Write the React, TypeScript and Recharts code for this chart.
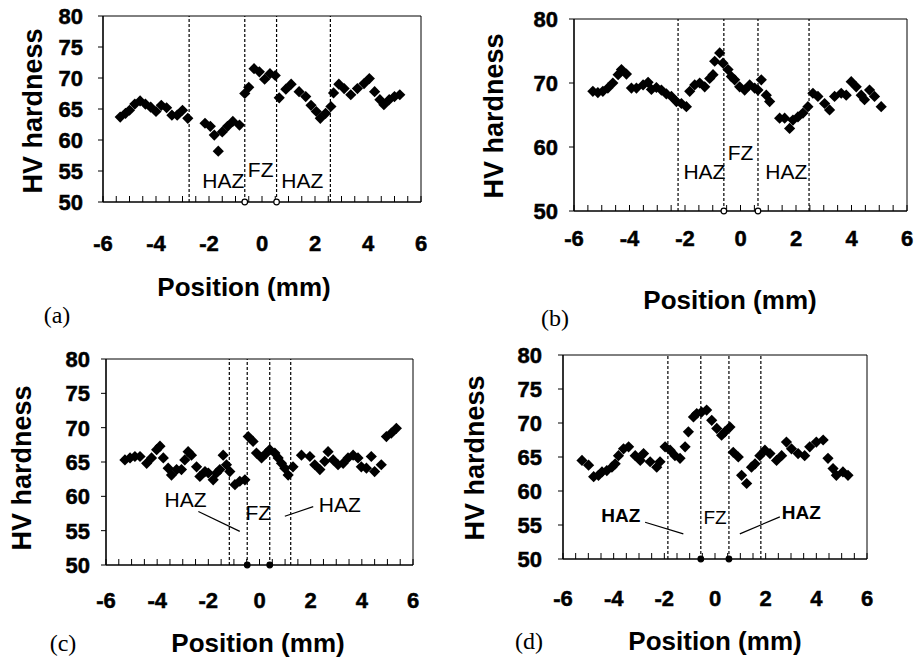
import React from "react";
import {
  ScatterChart,
  Scatter,
  XAxis,
  YAxis,
  ReferenceLine,
  ReferenceDot,
  ReferenceArea,
} from "recharts";

// ---- data (position in mm, Vickers hardness) ----
const positionA = [-5.35, -5.15, -5.0, -4.8, -4.6, -4.4, -4.2, -4.0, -3.8, -3.6, -3.4, -3.2, -3.0, -2.8, -2.15, -1.95, -1.8, -1.65, -1.5, -1.3, -1.1, -0.85, -0.65, -0.5, -0.3, -0.1, 0.1, 0.3, 0.5, 0.65, 0.9, 1.1, 1.4, 1.65, 1.85, 2.05, 2.2, 2.4, 2.6, 2.7, 2.9, 3.1, 3.35, 3.6, 3.85, 4.05, 4.25, 4.45, 4.6, 4.8, 5.0, 5.2];
const hardnessA = [63.7, 64.3, 64.8, 65.8, 66.3, 65.8, 65.3, 64.6, 65.6, 65.2, 64.0, 64.0, 64.8, 63.5, 62.7, 62.2, 60.8, 58.2, 61.3, 62.2, 63.0, 62.4, 67.5, 68.5, 71.5, 71.0, 69.8, 70.7, 70.4, 66.8, 68.2, 69.0, 67.8, 67.0, 65.6, 64.6, 63.5, 64.3, 65.4, 67.6, 69.0, 68.3, 67.3, 68.3, 69.1, 69.9, 67.8, 66.5, 65.7, 66.5, 67.0, 67.3];

const positionB = [-5.32, -5.14, -4.96, -4.78, -4.6, -4.41, -4.29, -4.11, -3.93, -3.75, -3.51, -3.33, -3.21, -3.03, -2.85, -2.67, -2.49, -2.31, -2.13, -1.95, -1.83, -1.65, -1.47, -1.29, -1.11, -0.99, -0.93, -0.75, -0.63, -0.45, -0.33, -0.21, -0.03, 0.15, 0.33, 0.51, 0.63, 0.75, 0.93, 1.05, 1.41, 1.59, 1.77, 1.89, 2.07, 2.25, 2.43, 2.61, 2.79, 3.03, 3.21, 3.39, 3.63, 3.81, 3.99, 4.17, 4.35, 4.47, 4.65, 4.83, 5.07];
const hardnessB = [68.7, 68.5, 68.7, 69.2, 70.0, 71.3, 72.1, 71.4, 69.2, 69.2, 69.7, 70.1, 69.0, 69.3, 68.9, 68.3, 67.9, 67.1, 66.8, 66.3, 68.7, 69.7, 70.0, 69.4, 70.7, 71.3, 73.4, 74.7, 73.1, 72.1, 71.0, 70.5, 69.4, 68.9, 69.7, 69.2, 68.9, 70.5, 68.1, 67.1, 64.5, 64.5, 62.9, 64.2, 64.7, 65.3, 66.3, 68.4, 67.9, 66.8, 65.8, 67.9, 68.4, 68.1, 70.2, 69.4, 68.1, 67.4, 68.9, 67.9, 66.3];

const positionC = [-5.26, -5.06, -4.87, -4.67, -4.41, -4.22, -4.02, -3.89, -3.76, -3.57, -3.44, -3.24, -3.05, -2.92, -2.79, -2.66, -2.46, -2.33, -2.13, -2.0, -1.81, -1.68, -1.55, -1.42, -1.29, -1.16, -0.96, -0.77, -0.57, -0.44, -0.25, -0.12, 0.08, 0.27, 0.4, 0.6, 0.73, 0.86, 0.99, 1.12, 1.31, 1.64, 1.97, 2.16, 2.36, 2.55, 2.68, 2.88, 3.07, 3.27, 3.46, 3.66, 3.85, 3.98, 4.18, 4.37, 4.5, 4.76, 4.96, 5.15, 5.35];
const hardnessC = [65.3, 65.6, 65.8, 65.8, 64.8, 65.6, 66.8, 67.3, 65.6, 64.1, 63.1, 63.9, 63.9, 65.3, 66.5, 66.0, 64.3, 62.9, 63.6, 63.4, 62.4, 63.4, 63.9, 66.0, 64.6, 63.6, 61.7, 62.2, 62.4, 68.7, 68.0, 66.3, 65.6, 66.3, 66.8, 66.3, 65.6, 64.8, 64.1, 63.1, 64.3, 66.0, 65.8, 64.6, 63.9, 65.1, 66.5, 65.3, 64.6, 64.8, 65.6, 66.0, 65.6, 64.3, 64.1, 65.8, 63.6, 64.6, 68.7, 69.2, 69.9];

const positionD = [-5.25, -4.99, -4.79, -4.6, -4.46, -4.27, -4.07, -3.94, -3.81, -3.61, -3.41, -3.15, -2.95, -2.82, -2.56, -2.3, -2.17, -1.97, -1.77, -1.58, -1.38, -1.18, -1.05, -0.85, -0.72, -0.53, -0.33, -0.13, 0.07, 0.26, 0.39, 0.59, 0.72, 0.92, 1.05, 1.25, 1.44, 1.58, 1.77, 1.97, 2.17, 2.43, 2.63, 2.82, 3.02, 3.28, 3.54, 3.74, 4.0, 4.27, 4.46, 4.66, 4.79, 5.05, 5.25];
const hardnessD = [64.5, 63.8, 62.1, 62.3, 62.8, 63.0, 63.5, 64.0, 65.2, 66.2, 66.5, 65.2, 64.5, 65.5, 64.3, 63.5, 64.3, 66.5, 66.0, 65.2, 64.8, 66.5, 68.7, 70.9, 71.4, 71.6, 71.9, 70.4, 69.2, 68.2, 68.7, 69.4, 65.7, 65.0, 62.3, 61.1, 63.5, 64.0, 65.2, 66.0, 65.5, 64.5, 65.2, 67.2, 66.2, 65.5, 65.2, 66.5, 67.2, 67.5, 64.8, 63.3, 62.3, 62.8, 62.3];

// zone boundaries (mm)
const hazEdgesA = [-2.75, 2.58];
const fzEdgesA = [-0.65, 0.55];
const hazEdgesB = [-2.25, 2.47];
const fzEdgesB = [-0.6, 0.63];
const hazEdgesC = [-1.18, 1.22];
const fzEdgesC = [-0.48, 0.4];
const hazEdgesD = [-1.86, 1.81];
const fzEdgesD = [-0.56, 0.55];

// zone labels (anchored in data units)
const zoneLabelsA = [
  { text: "HAZ", x: -1.46, y: 53.5 },
  { text: "FZ", x: -0.05, y: 55.2 },
  { text: "HAZ", x: 1.52, y: 53.5 },
];
const zoneLabelsB = [
  { text: "HAZ", x: -1.3, y: 56.1 },
  { text: "FZ", x: 0.0, y: 59.2 },
  { text: "HAZ", x: 1.65, y: 56.1 },
];
const zoneLabelsC = [
  { text: "HAZ", x: -2.89, y: 59.5 },
  { text: "FZ", x: -0.05, y: 57.6 },
  { text: "HAZ", x: 3.14, y: 58.8 },
];
const zoneLabelsD = [
  { text: "HAZ", x: -3.72, y: 56.4, bold: true },
  { text: "FZ", x: 0.0, y: 56.2 },
  { text: "HAZ", x: 3.41, y: 56.9, bold: true },
];

const leadersC = [
  [{ x: -2.39, y: 57.8 }, { x: -0.77, y: 54.9 }],
  [{ x: 2.1, y: 58.5 }, { x: 0.99, y: 57.1 }],
];
const leadersD = [
  [{ x: -2.76, y: 55.4 }, { x: -1.25, y: 53.7 }],
  [{ x: 2.56, y: 56.2 }, { x: 0.98, y: 53.7 }],
];

const xMajorTicks = [-6, -4, -2, 0, 2, 4, 6];
const xAllTicks = [-6, -5.5, -5, -4.5, -4, -3.5, -3, -2.5, -2, -1.5, -1, -0.5, 0, 0.5, 1, 1.5, 2, 2.5, 3, 3.5, 4, 4.5, 5, 5.5, 6];
const yTicksFive = [50, 55, 60, 65, 70, 75, 80];
const yTicksTen = [50, 60, 70, 80];

const SANS = "'Liberation Sans', Arial, Helvetica, sans-serif";
const SERIF = "'Liberation Serif', 'Times New Roman', serif";

const tickTextStyle: React.CSSProperties = {
  fontFamily: SANS,
  fontWeight: "bold",
  fontSize: 22,
  fill: "#000",
  stroke: "#000",
  strokeWidth: 0.5,
};

const Diamond = (props: any) => {
  const { cx, cy } = props;
  const r = 5.6;
  return <path d={`M${cx},${cy - r}L${cx + r},${cy}L${cx},${cy + r}L${cx - r},${cy}Z`} fill="#000" />;
};

const renderXTick = (props: any) => {
  const { x, y, payload, index } = props;
  const v = payload.value;
  if (!xMajorTicks.includes(v)) return <g key={`xt${index}`} />;
  return (
    <text key={`xt${index}`} x={x} y={y} dy="0.71em" textAnchor="middle" style={tickTextStyle}>
      {String(v)}
    </text>
  );
};

const renderYTick = (props: any) => {
  const { x, y, payload, index } = props;
  return (
    <text key={`yt${index}`} x={x} y={y} dy="0.36em" textAnchor="end" style={tickTextStyle}>
      {String(payload.value)}
    </text>
  );
};

type PanelProps = {
  left: number;
  top: number;
  width: number;
  height: number;
  margin: { top: number; right: number; bottom: number };
  yWidth: number;
  xTickMargin: number;
  yTickMargin: number;
  positions: number[];
  hardness: number[];
  yTicks: number[];
  hazEdges: number[];
  fzEdges: number[];
  fzFilled: boolean;
  labels: { text: string; x: number; y: number; bold?: boolean }[];
  labelSize: number;
  leaders?: { x: number; y: number }[][];
};

const Panel = (p: PanelProps) => {
  const data = p.positions.map((x, i) => ({ x, y: p.hardness[i] }));
  return (
    <div style={{ position: "absolute", left: p.left, top: p.top }}>
      <ScatterChart
        width={p.width}
        height={p.height}
        margin={{ top: p.margin.top, right: p.margin.right, bottom: p.margin.bottom, left: 0 }}
      >
        <ReferenceArea x1={-6} x2={6} y1={50} y2={80} fill="none" stroke="#000" strokeWidth={1} ifOverflow="visible" />
        <XAxis
          type="number"
          dataKey="x"
          domain={[-6, 6]}
          ticks={xAllTicks}
          interval={0}
          tickSize={-6}
          tickMargin={p.xTickMargin}
          height={50}
          axisLine={{ stroke: "#000", strokeWidth: 1.2 }}
          tickLine={{ stroke: "#000" }}
          tick={renderXTick}
          allowDataOverflow
        />
        <YAxis
          type="number"
          dataKey="y"
          domain={[50, 80]}
          ticks={p.yTicks}
          interval={0}
          width={p.yWidth}
          tickSize={5}
          tickMargin={p.yTickMargin}
          axisLine={{ stroke: "#000", strokeWidth: 1.2 }}
          tickLine={{ stroke: "#000" }}
          tick={renderYTick}
          allowDataOverflow
        />
        {[...p.hazEdges, ...p.fzEdges].map((x, i) => (
          <ReferenceLine key={`e${i}`} x={x} stroke="#000" strokeWidth={1.2} strokeDasharray="3 2" />
        ))}
        {(p.leaders || []).map((seg, i) => (
          <ReferenceLine key={`l${i}`} segment={seg} stroke="#000" strokeWidth={1.2} ifOverflow="visible" />
        ))}
        <Scatter data={data} shape={Diamond} fill="#000" isAnimationActive={false} />
        {p.fzEdges.map((x, i) => (
          <ReferenceDot
            key={`f${i}`}
            x={x}
            y={50}
            r={2.8}
            fill={p.fzFilled ? "#000" : "#fff"}
            stroke="#000"
            strokeWidth={1.2}
            ifOverflow="visible"
          />
        ))}
        {p.labels.map((l, i) => (
          <ReferenceDot
            key={`t${i}`}
            x={l.x}
            y={l.y}
            r={0}
            fill="none"
            stroke="none"
            label={{
              value: l.text,
              position: "center",
              fill: "#000",
              fontSize: p.labelSize,
              fontWeight: l.bold ? 700 : 400,
              fontFamily: SANS,
            }}
          />
        ))}
      </ScatterChart>
    </div>
  );
};

const Title = ({ text, x, y, rotate, size }: { text: string; x: number; y: number; rotate?: boolean; size: number }) => (
  <div
    style={{
      position: "absolute",
      left: x,
      top: y,
      transform: `translate(-50%, -50%)${rotate ? " rotate(-90deg)" : ""}`,
      fontFamily: SANS,
      fontWeight: 700,
      fontSize: size,
      whiteSpace: "nowrap",
      lineHeight: 1,
      color: "#000",
    }}
  >
    {text}
  </div>
);

const Letter = ({ text, x, y }: { text: string; x: number; y: number }) => (
  <div
    style={{
      position: "absolute",
      left: x,
      top: y,
      transform: "translate(-50%, -50%)",
      fontFamily: SERIF,
      fontSize: 24,
      whiteSpace: "nowrap",
      lineHeight: 1,
      color: "#000",
    }}
  >
    {text}
  </div>
);

export default function App() {
  return (
    <div style={{ position: "absolute", left: 0, top: 0, width: 919, height: 666, background: "#fff", overflow: "hidden" }}>
      <Panel
        left={0}
        top={0}
        width={460}
        height={340}
        margin={{ top: 16, right: 39, bottom: 88 }}
        yWidth={103}
        xTickMargin={39}
        yTickMargin={15}
        positions={positionA}
        hardness={hardnessA}
        yTicks={yTicksFive}
        hazEdges={hazEdgesA}
        fzEdges={fzEdgesA}
        fzFilled={false}
        labels={zoneLabelsA}
        labelSize={21}
      />
      <Panel
        left={460}
        top={0}
        width={459}
        height={340}
        margin={{ top: 19, right: 12, bottom: 79 }}
        yWidth={114}
        xTickMargin={25}
        yTickMargin={11}
        positions={positionB}
        hardness={hardnessB}
        yTicks={yTicksTen}
        hazEdges={hazEdgesB}
        fzEdges={fzEdgesB}
        fzFilled={false}
        labels={zoneLabelsB}
        labelSize={21}
      />
      <Panel
        left={0}
        top={340}
        width={460}
        height={326}
        margin={{ top: 19, right: 47, bottom: 51 }}
        yWidth={106}
        xTickMargin={33}
        yTickMargin={11}
        positions={positionC}
        hardness={hardnessC}
        yTicks={yTicksFive}
        hazEdges={hazEdgesC}
        fzEdges={fzEdgesC}
        fzFilled={true}
        labels={zoneLabelsC}
        labelSize={21}
        leaders={leadersC}
      />
      <Panel
        left={460}
        top={340}
        width={459}
        height={326}
        margin={{ top: 15, right: 52, bottom: 57 }}
        yWidth={103}
        xTickMargin={37}
        yTickMargin={16}
        positions={positionD}
        hardness={hardnessD}
        yTicks={yTicksFive}
        hazEdges={hazEdgesD}
        fzEdges={fzEdgesD}
        fzFilled={true}
        labels={zoneLabelsD}
        labelSize={19}
        leaders={leadersD}
      />

      <Title text="HV hardness" x={33} y={111} size={27} rotate />
      <Title text="HV hardness" x={494} y={116} size={27} rotate />
      <Title text="HV hardness" x={22} y={468} size={27} rotate />
      <Title text="HV hardness" x={475} y={458} size={27} rotate />

      <Title text="Position (mm)" x={244} y={287} size={26} />
      <Title text="Position (mm)" x={730} y={300} size={26} />
      <Title text="Position (mm)" x={258} y={643} size={26} />
      <Title text="Position (mm)" x={715} y={641} size={26} />

      <Letter text="(a)" x={57} y={315} />
      <Letter text="(b)" x={555} y={318} />
      <Letter text="(c)" x={63} y={643} />
      <Letter text="(d)" x={529} y={641} />
    </div>
  );
}
